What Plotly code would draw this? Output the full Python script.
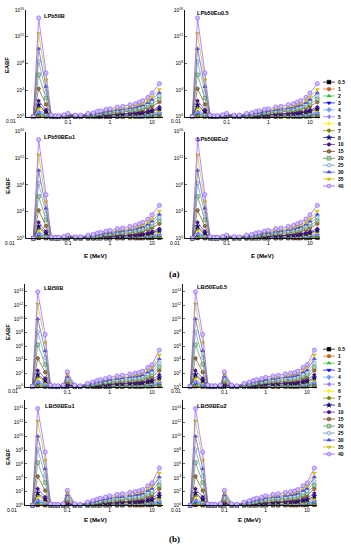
import plotly.graph_objects as go

# ---------------- data ----------------
energies = [0.015, 0.02, 0.03, 0.04, 0.05, 0.06, 0.08, 0.1, 0.15, 0.2, 0.3, 0.4, 0.5,
            0.6, 0.8, 1, 1.5, 2, 3, 4, 5, 6, 8, 10, 15]
depths = ["0.5", "1", "2", "3", "4", "5", "6", "7", "8", "10", "15", "20", "25", "30", "35", "40"]

# log10(EABF), Pb-based glasses (panel a)
pb_log_eabf = {
    "0.5": [0.0, 0.08, 0.04, 0.0, 0.0, 0.0, 0.01, 0.01, 0.0, 0.0, 0.01, 0.01, 0.02, 0.02, 0.02, 0.02, 0.03, 0.03, 0.04, 0.04, 0.04, 0.05, 0.06, 0.07, 0.1],
    "1":   [0.0, 0.18, 0.08, 0.01, 0.01, 0.01, 0.01, 0.02, 0.01, 0.01, 0.02, 0.02, 0.03, 0.03, 0.04, 0.04, 0.05, 0.05, 0.06, 0.07, 0.08, 0.08, 0.1, 0.12, 0.17],
    "2":   [0.0, 0.35, 0.15, 0.02, 0.01, 0.01, 0.02, 0.03, 0.02, 0.02, 0.03, 0.04, 0.05, 0.05, 0.07, 0.07, 0.09, 0.09, 0.11, 0.12, 0.13, 0.14, 0.17, 0.21, 0.3],
    "3":   [0.0, 0.55, 0.24, 0.02, 0.01, 0.01, 0.03, 0.05, 0.02, 0.02, 0.05, 0.05, 0.07, 0.08, 0.1, 0.11, 0.13, 0.14, 0.16, 0.18, 0.2, 0.22, 0.26, 0.32, 0.45],
    "4":   [0.01, 0.75, 0.33, 0.03, 0.02, 0.02, 0.04, 0.06, 0.03, 0.03, 0.06, 0.07, 0.1, 0.11, 0.13, 0.14, 0.17, 0.19, 0.22, 0.23, 0.26, 0.29, 0.35, 0.43, 0.6],
    "5":   [0.01, 0.95, 0.42, 0.04, 0.02, 0.02, 0.05, 0.08, 0.04, 0.04, 0.08, 0.09, 0.12, 0.14, 0.17, 0.18, 0.22, 0.23, 0.27, 0.29, 0.33, 0.36, 0.44, 0.53, 0.75],
    "6":   [0.01, 1.2, 0.53, 0.05, 0.03, 0.03, 0.05, 0.09, 0.05, 0.05, 0.09, 0.11, 0.14, 0.16, 0.2, 0.22, 0.26, 0.28, 0.32, 0.35, 0.4, 0.43, 0.52, 0.64, 0.9],
    "7":   [0.01, 1.5, 0.66, 0.05, 0.03, 0.03, 0.06, 0.1, 0.05, 0.05, 0.1, 0.13, 0.17, 0.19, 0.23, 0.25, 0.3, 0.33, 0.38, 0.41, 0.46, 0.5, 0.61, 0.75, 1.05],
    "8":   [0.01, 1.8, 0.8, 0.06, 0.04, 0.04, 0.07, 0.12, 0.06, 0.06, 0.12, 0.14, 0.19, 0.22, 0.26, 0.29, 0.35, 0.37, 0.43, 0.47, 0.53, 0.58, 0.7, 0.85, 1.2],
    "10":  [0.01, 2.4, 1.05, 0.07, 0.04, 0.04, 0.09, 0.15, 0.07, 0.07, 0.15, 0.17, 0.23, 0.26, 0.32, 0.35, 0.42, 0.45, 0.52, 0.57, 0.64, 0.7, 0.84, 1.03, 1.45],
    "15":  [0.01, 4.2, 1.85, 0.11, 0.07, 0.07, 0.13, 0.22, 0.11, 0.11, 0.22, 0.26, 0.35, 0.4, 0.48, 0.53, 0.64, 0.68, 0.79, 0.86, 0.97, 1.06, 1.28, 1.56, 2.2],
    "20":  [0.02, 6.3, 2.8, 0.14, 0.08, 0.08, 0.16, 0.27, 0.14, 0.14, 0.27, 0.32, 0.43, 0.49, 0.59, 0.65, 0.78, 0.84, 0.97, 1.05, 1.19, 1.3, 1.57, 1.92, 2.65],
    "25":  [0.02, 8.3, 3.7, 0.16, 0.1, 0.1, 0.19, 0.32, 0.16, 0.16, 0.32, 0.38, 0.51, 0.58, 0.7, 0.77, 0.93, 0.99, 1.15, 1.25, 1.41, 1.54, 1.86, 2.27, 3.15],
    "30":  [0.02, 10.2, 4.5, 0.18, 0.11, 0.11, 0.22, 0.37, 0.18, 0.18, 0.37, 0.44, 0.58, 0.66, 0.8, 0.88, 1.06, 1.13, 1.31, 1.42, 1.61, 1.75, 2.12, 2.6, 3.6],
    "35":  [0.03, 12.5, 5.5, 0.21, 0.12, 0.12, 0.25, 0.42, 0.21, 0.21, 0.42, 0.5, 0.66, 0.75, 0.91, 1.0, 1.2, 1.29, 1.49, 1.62, 1.83, 1.99, 2.41, 2.95, 4.1],
    "40":  [0.03, 14.8, 6.55, 0.25, 0.15, 0.15, 0.3, 0.5, 0.25, 0.25, 0.5, 0.6, 0.8, 0.9, 1.1, 1.2, 1.45, 1.55, 1.8, 1.95, 2.2, 2.4, 2.9, 3.55, 4.95],
}

# log10(EABF), Bi-based glasses (panel b)
bi_log_eabf = {
    "0.5": [0.0, 0.08, 0.04, 0.0, 0.0, 0.0, 0.0, 0.01, 0.0, 0.0, 0.01, 0.01, 0.02, 0.02, 0.02, 0.03, 0.03, 0.03, 0.04, 0.04, 0.04, 0.05, 0.06, 0.07, 0.11],
    "1":   [0.0, 0.18, 0.09, 0.01, 0.01, 0.01, 0.01, 0.03, 0.01, 0.01, 0.02, 0.02, 0.03, 0.04, 0.04, 0.05, 0.06, 0.06, 0.07, 0.07, 0.07, 0.08, 0.1, 0.11, 0.19],
    "2":   [0.0, 0.35, 0.18, 0.02, 0.01, 0.01, 0.02, 0.05, 0.02, 0.01, 0.03, 0.04, 0.05, 0.06, 0.07, 0.08, 0.1, 0.1, 0.11, 0.12, 0.13, 0.14, 0.17, 0.2, 0.32],
    "3":   [0.0, 0.55, 0.28, 0.02, 0.01, 0.01, 0.02, 0.08, 0.02, 0.01, 0.05, 0.06, 0.08, 0.09, 0.11, 0.13, 0.14, 0.15, 0.17, 0.18, 0.19, 0.21, 0.26, 0.29, 0.49],
    "4":   [0.01, 0.75, 0.39, 0.03, 0.02, 0.02, 0.03, 0.11, 0.03, 0.02, 0.06, 0.08, 0.11, 0.13, 0.14, 0.17, 0.19, 0.2, 0.23, 0.24, 0.25, 0.28, 0.34, 0.39, 0.65],
    "5":   [0.01, 0.95, 0.49, 0.04, 0.02, 0.02, 0.04, 0.14, 0.04, 0.02, 0.08, 0.11, 0.14, 0.16, 0.18, 0.21, 0.24, 0.26, 0.29, 0.3, 0.32, 0.35, 0.43, 0.49, 0.81],
    "6":   [0.01, 1.2, 0.62, 0.05, 0.03, 0.03, 0.05, 0.18, 0.05, 0.03, 0.09, 0.13, 0.16, 0.19, 0.22, 0.25, 0.29, 0.31, 0.34, 0.36, 0.38, 0.41, 0.51, 0.59, 0.97],
    "7":   [0.01, 1.5, 0.77, 0.05, 0.03, 0.03, 0.05, 0.22, 0.05, 0.03, 0.11, 0.15, 0.19, 0.22, 0.25, 0.29, 0.34, 0.36, 0.4, 0.42, 0.44, 0.48, 0.6, 0.68, 1.13],
    "8":   [0.01, 1.8, 0.92, 0.06, 0.04, 0.04, 0.06, 0.26, 0.06, 0.04, 0.13, 0.18, 0.23, 0.26, 0.3, 0.35, 0.4, 0.43, 0.48, 0.5, 0.53, 0.58, 0.71, 0.81, 1.35],
    "10":  [0.02, 2.4, 1.23, 0.08, 0.05, 0.05, 0.08, 0.35, 0.08, 0.05, 0.16, 0.22, 0.29, 0.34, 0.38, 0.45, 0.51, 0.54, 0.61, 0.64, 0.67, 0.74, 0.91, 1.04, 1.75],
    "15":  [0.02, 4.2, 2.15, 0.11, 0.07, 0.07, 0.11, 0.62, 0.11, 0.07, 0.22, 0.31, 0.4, 0.46, 0.53, 0.62, 0.7, 0.75, 0.84, 0.88, 0.92, 1.01, 1.25, 1.43, 2.4],
    "20":  [0.03, 6.2, 3.3, 0.14, 0.08, 0.08, 0.14, 0.95, 0.14, 0.08, 0.27, 0.38, 0.49, 0.57, 0.65, 0.76, 0.86, 0.92, 1.03, 1.08, 1.13, 1.24, 1.54, 1.76, 2.9],
    "25":  [0.03, 8.1, 4.3, 0.16, 0.1, 0.1, 0.16, 1.23, 0.16, 0.1, 0.33, 0.46, 0.59, 0.68, 0.78, 0.91, 1.04, 1.11, 1.24, 1.3, 1.37, 1.5, 1.85, 2.11, 3.5],
    "30":  [0.04, 10.0, 5.3, 0.19, 0.11, 0.11, 0.19, 1.52, 0.19, 0.11, 0.38, 0.53, 0.68, 0.8, 0.91, 1.06, 1.22, 1.29, 1.44, 1.52, 1.6, 1.75, 2.17, 2.47, 4.1],
    "35":  [0.04, 12.2, 6.5, 0.22, 0.13, 0.13, 0.22, 1.86, 0.22, 0.13, 0.44, 0.61, 0.78, 0.91, 1.04, 1.22, 1.39, 1.48, 1.65, 1.74, 1.83, 2.0, 2.48, 2.83, 4.7],
    "40":  [0.05, 14.0, 7.7, 0.25, 0.15, 0.15, 0.25, 2.2, 0.25, 0.15, 0.5, 0.7, 0.9, 1.05, 1.2, 1.4, 1.6, 1.7, 1.9, 2.0, 2.1, 2.3, 2.85, 3.25, 5.4],
}

panel_names_a = ["LPb50B", "LPb50Eu0.5", "LPb50BEu1", "LPb50BEu2"]
panel_names_b = ["LBi50B", "LBi50Eu0.5", "LBi50BEu1", "LBi50BEu2"]
x_tick_values = [0.01, 0.1, 1, 10]
x_tick_labels = ["0.01", "0.1", "1", "10"]
y_exp_a = [0, 4, 8, 12, 16]
y_exp_b = [0, 2, 4, 6, 8, 10, 12, 14]

# ---------------- styles ----------------
line_colors = ["#000000", "#c8641e", "#2fbf2f", "#0000ff", "#6f9fff", "#8a6cff", "#e8e800", "#808000",
               "#000080", "#45108a", "#663300", "#3f7f3f", "#4f86b0", "#3333cc", "#c8b400", "#7f3fff"]
fill_colors = ["#000000", "#c8641e", "#2fbf2f", "#0000ff", "#6f9fff", "#8a6cff", "#ffff00", "#808000",
               "#000080", "#45108a", "#a07040", "#a8d0a8", "#cfe0f0", "#5555ee", "#e0c800", "#cbbcff"]
symbols = ["square", "circle", "triangle-up", "triangle-down", "diamond", "triangle-left", "triangle-right",
           "hexagon", "star", "pentagon", "circle", "square", "circle", "triangle-up", "triangle-down", "circle"]

W, H = 351, 550
FONT = "Liberation Sans, Arial, sans-serif"


def xp(px):
    return px / W


def yp(py):
    return 1 - py / H


panels = [
    dict(names=panel_names_a, data=pb_log_eabf, ytop=16, exps=y_exp_a,
         boxes=[(26, 163, 7, 115), (185, 320, 7, 115), (26, 163, 130, 238), (185, 320, 130, 238)],
         xr=[1.262, 1.24, 1.262, 1.24],
         lab=[(42, 13), (195, 10), (42, 135), (195, 137)],
         zero=[11, 176, 10, 175]),
    dict(names=panel_names_b, data=bi_log_eabf, ytop=15.2, exps=y_exp_b,
         boxes=[(25, 163, 283.7, 388), (183, 317, 283.7, 388), (25, 163, 401.6, 508), (183, 317, 401.6, 508)],
         xr=[1.262, 1.24, 1.262, 1.24],
         lab=[(42, 288), (195, 287), (43, 407), (195, 407)],
         zero=[13, 176, 12, 176]),
]

fig = go.Figure()
layout = {}
annotations = []
ax = 0
for g, P in enumerate(panels):
    for k in range(4):
        ax += 1
        xa = "x" if ax == 1 else f"x{ax}"
        ya = "y" if ax == 1 else f"y{ax}"
        l, r, t, b = P["boxes"][k]
        layout["xaxis" if ax == 1 else f"xaxis{ax}"] = dict(
            domain=[xp(l), xp(r)], anchor=ya, type="log", range=[-2, P["xr"][k]],
            tickmode="array", tickvals=x_tick_values[1:], ticktext=x_tick_labels[1:],
            ticks="inside", ticklen=2, tickwidth=0.8, showline=True, linecolor="black", linewidth=0.9,
            showgrid=False, zeroline=False, tickfont=dict(size=5, family=FONT, color="black"))
        layout["yaxis" if ax == 1 else f"yaxis{ax}"] = dict(
            domain=[yp(b), yp(t)], anchor=xa, type="log", range=[0, P["ytop"]],
            tickmode="array", tickvals=[10 ** e for e in P["exps"]],
            ticktext=[f"10<sup>{e}</sup>" for e in P["exps"]],
            ticks="inside", ticklen=2, tickwidth=0.8, showline=True, linecolor="black", linewidth=0.9,
            showgrid=False, zeroline=False, tickfont=dict(size=5, family=FONT, color="black"))
        for i, d in enumerate(depths):
            fig.add_trace(go.Scatter(
                x=energies, y=[10 ** v for v in P["data"][d]], mode="lines+markers", xaxis=xa, yaxis=ya,
                line=dict(color=line_colors[i], width=0.6),
                marker=dict(symbol=symbols[i], size=3.6 if i < 15 else 4.2, color=fill_colors[i],
                            line=dict(color=line_colors[i], width=0.5)),
                cliponaxis=False, showlegend=False, hoverinfo="skip"))
        lx, ly = P["lab"][k]
        annotations.append(dict(text=f"<b>{P['names'][k]}</b>", x=xp(lx), y=yp(ly), xref="paper", yref="paper",
                                xanchor="left", yanchor="middle", showarrow=False,
                                font=dict(size=5.6, family=FONT, color="black")))
        annotations.append(dict(text=x_tick_labels[0], x=xp(P["zero"][k]), y=yp(b + 4.5), xref="paper",
                                yref="paper", xanchor="center", yanchor="middle", showarrow=False,
                                font=dict(size=5, family=FONT, color="black")))

# axis titles
for (x0, y0) in [(7, 63), (8, 185), (8, 333), (8, 459)]:
    annotations.append(dict(text="<b>EABF</b>", x=xp(x0), y=yp(y0), xref="paper", yref="paper",
                            textangle=-90, showarrow=False, xanchor="center", yanchor="middle",
                            font=dict(size=6, family=FONT, color="black")))
for (x0, y0) in [(95, 255), (262, 255), (95, 522), (249, 522)]:
    annotations.append(dict(text="<b>E (MeV)</b>", x=xp(x0), y=yp(y0), xref="paper", yref="paper",
                            showarrow=False, xanchor="center", yanchor="middle",
                            font=dict(size=6.2, family=FONT, color="black")))
for (txt, x0, y0) in [("(a)", 174, 274), ("(b)", 174, 542)]:
    annotations.append(dict(text=f"<b>{txt}</b>", x=xp(x0), y=yp(y0), xref="paper", yref="paper",
                            showarrow=False, xanchor="center", yanchor="middle", borderpad=0,
                            font=dict(size=9, family="Liberation Serif, Times New Roman, serif", color="black")))

# custom legends (one per figure part): rows are the depth indices
legend_rows = [(80.0, 7.0), (350.0, 7.07)]  # first row pixel, row pitch
for j, (top_row, pitch) in enumerate(legend_rows):
    ax += 1
    xa, ya = f"x{ax}", f"y{ax}"
    n = len(depths)
    layout[f"xaxis{ax}"] = dict(domain=[xp(323), xp(335)], range=[0, 1], visible=False, anchor=ya)
    layout[f"yaxis{ax}"] = dict(domain=[yp(top_row + (n - 0.5) * pitch), yp(top_row - 0.5 * pitch)],
                                range=[n - 0.5, -0.5], visible=False, anchor=xa)
    for i, d in enumerate(depths):
        fig.add_trace(go.Scatter(x=[0, 1], y=[i, i], mode="lines", xaxis=xa, yaxis=ya,
                                 line=dict(color=line_colors[i], width=0.7), showlegend=False,
                                 hoverinfo="skip", cliponaxis=False))
        fig.add_trace(go.Scatter(x=[0.5], y=[i], mode="markers", xaxis=xa, yaxis=ya,
                                 marker=dict(symbol=symbols[i], size=3.8, color=fill_colors[i],
                                             line=dict(color=line_colors[i], width=0.5)),
                                 showlegend=False, hoverinfo="skip", cliponaxis=False))
        annotations.append(dict(text=f"<b>{d}</b>", x=1.0, y=i, xref=xa, yref=ya, xanchor="left",
                                yanchor="middle", xshift=1.5, showarrow=False, borderpad=0,
                                font=dict(size=5, family=FONT, color="black")))

fig.update_layout(width=W, height=H, margin=dict(l=0, r=0, t=0, b=0), paper_bgcolor="white",
                  plot_bgcolor="white", showlegend=False, annotations=annotations, **layout)
fig.write_html("out.html", config={"displayModeBar": False, "staticPlot": True},
               post_script="document.body.style.margin='0';document.body.style.padding='0';")
